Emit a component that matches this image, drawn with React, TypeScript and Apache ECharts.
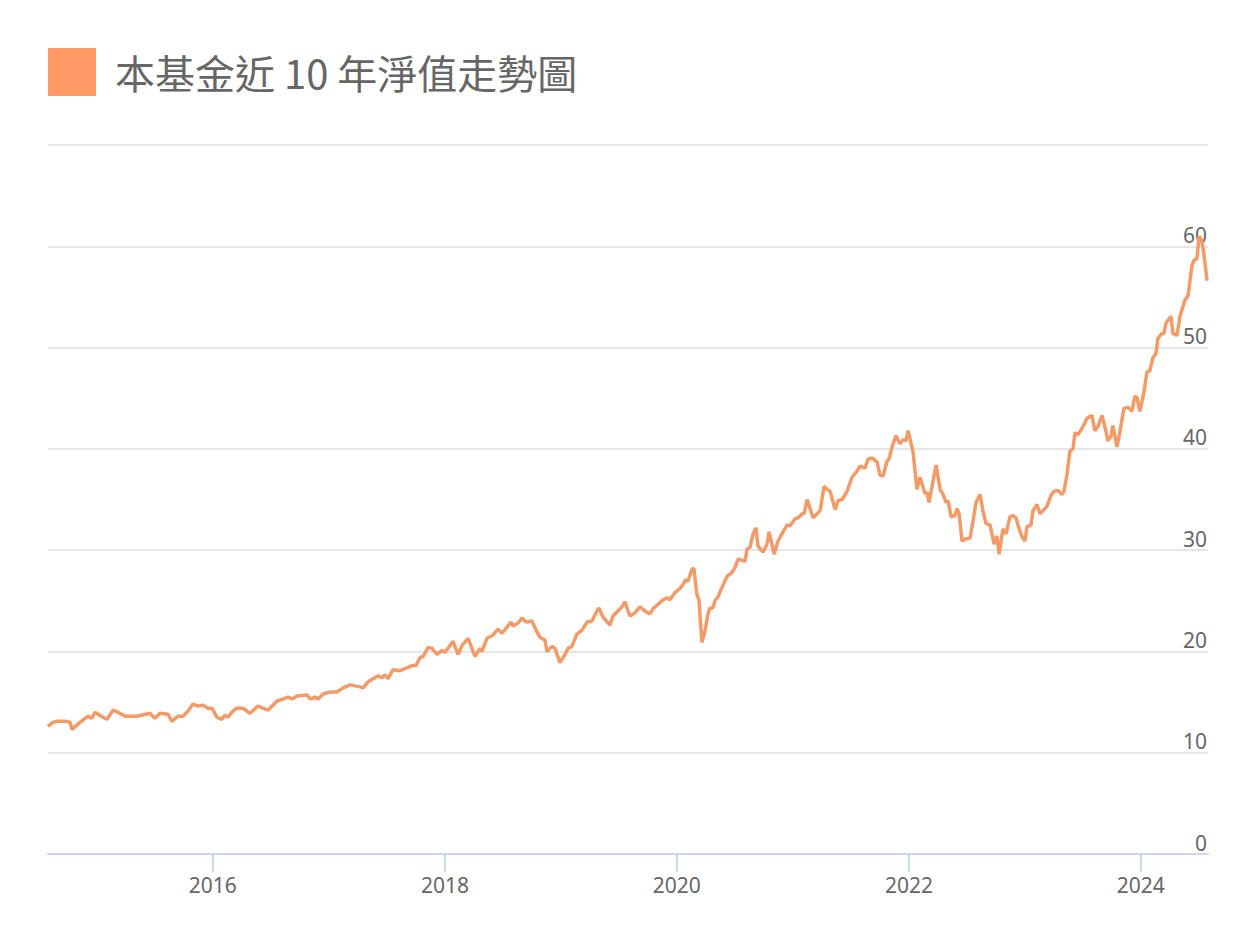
import React, { useEffect, useRef } from "react";
import * as echarts from "echarts";

const seriesName = "本基金近 10 年淨值走勢圖";

// dates as decimal years
const years = [
  2014.578, 2014.621, 2014.656, 2014.725, 2014.768, 2014.785, 2014.854, 2014.923, 2014.957, 2014.983,
  2015.052, 2015.087, 2015.138, 2015.181, 2015.242, 2015.345, 2015.457, 2015.500, 2015.544, 2015.613,
  2015.647, 2015.699, 2015.742, 2015.785, 2015.828, 2015.871, 2015.914, 2015.957, 2015.992, 2016.035,
  2016.078, 2016.104, 2016.130, 2016.164, 2016.207, 2016.259, 2016.319, 2016.388, 2016.431, 2016.475,
  2016.552, 2016.604, 2016.647, 2016.681, 2016.725, 2016.811, 2016.837, 2016.880, 2016.906, 2016.949,
  2017.009, 2017.069, 2017.121, 2017.181, 2017.225, 2017.268, 2017.294, 2017.337, 2017.380, 2017.423,
  2017.457, 2017.483, 2017.509, 2017.552, 2017.613, 2017.656, 2017.716, 2017.750, 2017.785, 2017.811,
  2017.854, 2017.888, 2017.931, 2017.975, 2018.000, 2018.069, 2018.112, 2018.147, 2018.199, 2018.259,
  2018.302, 2018.319, 2018.362, 2018.414, 2018.457, 2018.492, 2018.535, 2018.569, 2018.587, 2018.630,
  2018.664, 2018.699, 2018.750, 2018.794, 2018.819, 2018.863, 2018.880, 2018.923, 2018.949, 2018.992,
  2019.035, 2019.061, 2019.095, 2019.138, 2019.182, 2019.225, 2019.268, 2019.311, 2019.328, 2019.363,
  2019.423, 2019.449, 2019.483, 2019.526, 2019.552, 2019.595, 2019.639, 2019.682, 2019.725, 2019.768,
  2019.794, 2019.871, 2019.914, 2019.940, 2019.983, 2020.026, 2020.052, 2020.078, 2020.095, 2020.130,
  2020.147, 2020.173, 2020.190, 2020.216, 2020.242, 2020.268, 2020.285, 2020.311, 2020.328, 2020.354,
  2020.388, 2020.432, 2020.475, 2020.501, 2020.526, 2020.561, 2020.587, 2020.604, 2020.630, 2020.656,
  2020.681, 2020.699, 2020.742, 2020.776, 2020.794, 2020.837, 2020.871, 2020.914, 2020.949, 2020.975,
  2021.018, 2021.044, 2021.078, 2021.095, 2021.121, 2021.173, 2021.208, 2021.233, 2021.268, 2021.294,
  2021.320, 2021.363, 2021.388, 2021.423, 2021.466, 2021.509, 2021.552, 2021.578, 2021.621, 2021.647,
  2021.682, 2021.725, 2021.750, 2021.776, 2021.811, 2021.828, 2021.854, 2021.888, 2021.923, 2021.949,
  2021.975, 2021.992, 2022.035, 2022.069, 2022.095, 2022.138, 2022.156, 2022.173, 2022.234, 2022.268,
  2022.294, 2022.320, 2022.337, 2022.363, 2022.397, 2022.415, 2022.432, 2022.458, 2022.484, 2022.527,
  2022.553, 2022.578, 2022.613, 2022.639, 2022.665, 2022.699, 2022.734, 2022.759, 2022.777, 2022.811,
  2022.837, 2022.872, 2022.897, 2022.923, 2022.940, 2022.975, 2023.001, 2023.018, 2023.053, 2023.070,
  2023.104, 2023.130, 2023.173, 2023.190, 2023.225, 2023.251, 2023.285, 2023.320, 2023.337, 2023.363,
  2023.389, 2023.415, 2023.432, 2023.458, 2023.501, 2023.535, 2023.561, 2023.578, 2023.604, 2023.630,
  2023.665, 2023.690, 2023.716, 2023.742, 2023.759, 2023.794, 2023.820, 2023.854, 2023.889, 2023.923,
  2023.949, 2023.966, 2023.992, 2024.027, 2024.053, 2024.078, 2024.104, 2024.130, 2024.147, 2024.182,
  2024.199, 2024.216, 2024.259, 2024.276, 2024.311, 2024.337, 2024.380, 2024.406, 2024.440, 2024.458,
  2024.483, 2024.501, 2024.527, 2024.544, 2024.570,
];

const navs = [
  12.6, 13.0, 13.1, 13.1, 13.0, 12.3, 13.0, 13.6, 13.4, 14.0,
  13.5, 13.3, 14.2, 14.0, 13.6, 13.6, 13.9, 13.4, 13.9, 13.8,
  13.1, 13.6, 13.6, 14.1, 14.8, 14.6, 14.7, 14.4, 14.4, 13.5,
  13.3, 13.7, 13.5, 14.0, 14.4, 14.4, 13.9, 14.6, 14.4, 14.2,
  15.1, 15.3, 15.5, 15.3, 15.6, 15.7, 15.3, 15.5, 15.3, 15.8,
  16.0, 16.0, 16.4, 16.7, 16.6, 16.5, 16.4, 17.0, 17.3, 17.6,
  17.4, 17.7, 17.3, 18.2, 18.1, 18.3, 18.6, 18.6, 19.4, 19.5,
  20.4, 20.3, 19.7, 20.1, 19.9, 21.0, 19.7, 20.6, 21.3, 19.5,
  20.3, 20.0, 21.3, 21.6, 22.2, 21.8, 22.4, 22.9, 22.5, 22.8,
  23.3, 22.9, 23.0, 21.9, 21.4, 21.1, 20.0, 20.5, 20.3, 18.9,
  19.7, 20.3, 20.5, 21.7, 22.1, 22.9, 23.0, 24.0, 24.3, 23.4,
  22.6, 23.5, 23.9, 24.4, 24.9, 23.5, 23.8, 24.4, 24.0, 23.7,
  24.2, 25.0, 25.3, 25.1, 25.8, 26.2, 26.6, 27.1, 26.9, 28.1,
  28.2, 25.6, 25.1, 20.9, 22.0, 23.7, 24.3, 24.3, 25.0, 25.4,
  26.3, 27.4, 27.8, 28.3, 29.1, 29.0, 28.9, 30.1, 30.3, 31.6,
  32.2, 30.4, 29.8, 30.6, 31.8, 29.6, 30.9, 31.8, 32.5, 32.4,
  33.1, 33.2, 33.6, 33.6, 35.0, 33.2, 33.6, 33.9, 36.3, 36.0,
  35.8, 34.0, 34.9, 35.0, 35.8, 37.2, 37.8, 38.3, 38.1, 39.0,
  39.1, 38.7, 37.4, 37.3, 38.8, 39.0, 40.2, 41.3, 40.5, 40.9,
  40.8, 41.8, 39.7, 36.0, 37.2, 35.6, 35.7, 34.7, 38.4, 36.0,
  35.5, 34.7, 34.9, 33.3, 33.4, 34.1, 33.6, 30.9, 31.1, 31.2,
  32.9, 34.7, 35.5, 33.8, 32.6, 32.5, 30.6, 31.4, 29.6, 32.1,
  31.6, 33.3, 33.4, 33.2, 32.5, 31.3, 30.9, 32.3, 32.5, 33.9,
  34.5, 33.6, 34.1, 34.3, 35.4, 35.8, 35.9, 35.5, 35.8, 37.5,
  39.8, 40.0, 41.6, 41.4, 42.2, 43.0, 43.2, 43.3, 41.8, 42.2,
  43.3, 42.2, 40.8, 41.2, 42.3, 40.2, 41.7, 44.0, 44.1, 43.7,
  45.2, 45.1, 43.7, 45.6, 47.6, 47.7, 49.0, 49.4, 50.9, 51.4,
  51.4, 52.4, 53.1, 51.4, 51.2, 53.1, 54.7, 55.1, 58.1, 58.6,
  58.8, 61.0, 60.5, 59.1, 56.6,
];

const tickYears = [2016, 2018, 2020, 2022, 2024];
const rangeStart = 2014.578;
const rangeEnd = 2024.578;

function toTime(y: number): number {
  const yr = Math.floor(y);
  const a = Date.UTC(yr, 0, 1);
  const b = Date.UTC(yr + 1, 0, 1);
  return a + (y - yr) * (b - a);
}

export default function App() {
  const ref = useRef<HTMLDivElement>(null);
  useEffect(() => {
    if (!ref.current) return;
    const chart = echarts.init(ref.current, null, { renderer: "svg" });
    const data = years.map((y, i) => [toTime(y), navs[i]]);
    const ticks = tickYears.map((y) => Date.UTC(y, 0, 1));
    chart.setOption({
      animation: false,
      backgroundColor: "#ffffff",
      textStyle: { fontFamily: "'Noto Sans', 'Noto Sans CJK TC', sans-serif" },
      legend: {
        left: 40,
        top: 40,
        padding: 8,
        itemWidth: 48,
        itemHeight: 48,
        icon: "rect",
        selectedMode: false,
        data: [{ name: seriesName, icon: "rect", itemStyle: { color: "#ff9966" } }],
        textStyle: {
          fontSize: 40,
          color: "#666666",
          fontFamily: "'Noto Sans CJK TC', sans-serif",
          padding: [0, 0, 0, 14],
        },
      },
      grid: { left: 48, right: 48, top: 145, bottom: 86, containLabel: false },
      xAxis: {
        type: "value",
        min: toTime(rangeStart),
        max: toTime(rangeEnd),
        scale: true,
        axisLine: { show: true, lineStyle: { color: "#ccd6eb", width: 2 } },
        axisTick: {
          show: true,
          length: 18,
          lineStyle: { color: "#ccd6eb", width: 2 },
          customValues: ticks,
        },
        axisLabel: {
          customValues: ticks,
          formatter: (v: number) => String(new Date(v).getUTCFullYear()),
          fontSize: 21,
          color: "#666666",
          margin: 20,
          fontFamily: "'Noto Sans', sans-serif",
        },
        splitLine: { show: false },
      },
      yAxis: {
        type: "value",
        position: "right",
        min: 0,
        max: 70,
        interval: 10,
        axisLine: { show: false },
        axisTick: { show: false },
        axisLabel: {
          inside: true,
          margin: 1,
          showMaxLabel: false,
          fontSize: 21,
          color: "#666666",
          verticalAlign: "bottom",
          align: "right",
          padding: [0, 0, 1, 0],
          fontFamily: "'Noto Sans', sans-serif",
        },
        splitLine: { show: true, lineStyle: { color: "#e6e6e6", width: 2 } },
      },
      series: [
        {
          name: seriesName,
          type: "line",
          data,
          showSymbol: false,
          symbol: "none",
          color: "#ff9966",
          lineStyle: { color: "#f29b69", width: 3.5 },
          z: 3,
        },
      ],
    });
    return () => chart.dispose();
  }, []);
  return <div ref={ref} style={{ width: 1256, height: 940, margin: -8 }} />;
}
